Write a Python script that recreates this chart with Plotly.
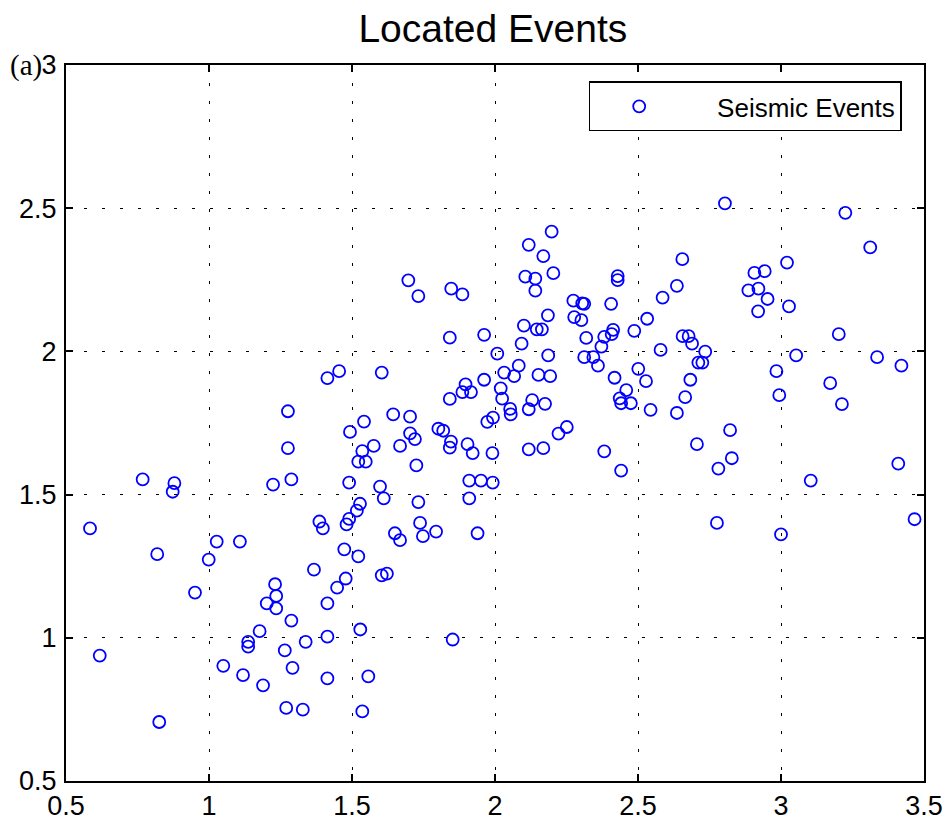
import plotly.graph_objects as go

# Epicentre coordinates of the located seismic events
event_x = [
    2.198, 2.118, 2.169, 1.697, 1.732, 1.847, 1.886, 2.106, 2.141, 2.141,
    2.204, 2.429, 2.429, 2.274, 2.305, 2.312, 2.406, 2.524, 2.804, 3.225,
    3.312, 2.655, 2.636, 2.586, 2.907, 2.943, 2.886, 2.921, 2.953, 3.021,
    3.028, 2.920, 2.532, 2.656, 2.677, 2.689, 2.579, 2.735, 2.711, 2.725,
    3.202, 3.053, 3.336, 3.421, 2.984, 2.501, 2.528, 2.683, 3.172, 2.994,
    2.665, 3.213, 2.544, 2.636, 2.822, 2.706, 2.828, 2.781, 3.410, 3.104,
    2.776, 3.467, 3.000, 2.185, 2.277, 2.302, 2.101, 2.146, 2.164, 2.487,
    2.413, 2.408, 2.382, 2.319, 1.842, 1.962, 2.093, 2.372, 2.008, 2.186,
    2.312, 2.344, 2.360, 2.083, 1.604, 2.032, 2.067, 2.152, 2.193, 2.418,
    1.962, 2.020, 1.897, 1.886, 1.916, 2.459, 2.025, 1.842, 2.436, 2.441,
    2.475, 2.130, 2.118, 2.175, 2.053, 2.055, 1.993, 1.973, 1.644, 1.703,
    1.542, 1.493, 1.703, 1.720, 1.802, 1.819, 1.576, 1.668, 1.536, 1.846,
    1.842, 1.904, 1.922, 1.991, 1.522, 1.548, 1.725, 2.118, 2.169, 2.222,
    2.251, 2.382, 2.441, 1.490, 1.598, 1.611, 1.910, 1.951, 1.992, 1.732,
    1.910, 1.528, 1.517, 1.490, 1.481, 1.738, 1.650, 1.668, 1.748, 1.794,
    1.939, 1.455, 1.414, 1.276, 1.276, 1.288, 1.224, 0.768, 0.879, 0.873,
    0.584, 1.386, 1.398, 1.027, 1.108, 0.819, 0.999, 1.473, 1.522, 1.367,
    1.478, 1.448, 0.951, 1.231, 1.235, 1.202, 1.235, 1.288, 1.414, 1.177,
    1.414, 1.137, 1.137, 1.338, 1.265, 0.618, 1.050, 1.292, 1.119, 1.414,
    1.189, 1.270, 1.328, 0.826, 1.604, 1.622, 1.529, 1.852, 1.557, 1.536,
]
event_y = [
    2.418, 2.372, 2.333, 2.248, 2.193, 2.219, 2.199, 2.261, 2.254, 2.212,
    2.273, 2.263, 2.249, 2.177, 2.168, 2.166, 2.166, 2.796, 2.517, 2.484,
    2.363, 2.322, 2.229, 2.188, 2.274, 2.280, 2.213, 2.219, 2.183, 2.310,
    2.157, 2.140, 2.114, 2.053, 2.053, 2.027, 2.005, 1.999, 1.961, 1.961,
    2.060, 1.986, 1.980, 1.950, 1.931, 1.939, 1.896, 1.901, 1.889, 1.847,
    1.840, 1.816, 1.796, 1.785, 1.725, 1.676, 1.627, 1.591, 1.608, 1.549,
    1.401, 1.414, 1.361, 2.126, 2.120, 2.109, 2.090, 2.077, 2.077, 2.072,
    2.075, 2.060, 2.051, 2.047, 2.048, 2.058, 2.027, 2.017, 1.992, 1.986,
    1.980, 1.980, 1.950, 1.950, 1.926, 1.926, 1.914, 1.918, 1.914, 1.908,
    1.901, 1.871, 1.885, 1.858, 1.858, 1.865, 1.835, 1.834, 1.836, 1.819,
    1.819, 1.830, 1.798, 1.817, 1.799, 1.780, 1.769, 1.754, 1.780, 1.772,
    1.755, 1.719, 1.714, 1.694, 1.730, 1.723, 1.670, 1.670, 1.652, 1.685,
    1.664, 1.676, 1.645, 1.645, 1.615, 1.615, 1.602, 1.658, 1.662, 1.713,
    1.736, 1.651, 1.584, 1.542, 1.528, 1.487, 1.549, 1.549, 1.542, 1.474,
    1.487, 1.468, 1.444, 1.415, 1.396, 1.401, 1.365, 1.341, 1.355, 1.371,
    1.365, 1.931, 1.907, 1.791, 1.662, 1.553, 1.535, 1.553, 1.540, 1.510,
    1.382, 1.406, 1.382, 1.336, 1.336, 1.292, 1.273, 1.309, 1.284, 1.238,
    1.207, 1.175, 1.158, 1.187, 1.146, 1.120, 1.103, 1.060, 1.120, 1.023,
    1.004, 0.986, 0.969, 0.986, 0.956, 0.938, 0.902, 0.895, 0.870, 0.858,
    0.834, 0.755, 0.749, 0.706, 1.218, 1.224, 1.029, 0.994, 0.865, 0.743,
]

tick_vals = [0.5, 1, 1.5, 2, 2.5, 3, 3.5]
tick_text = ["0.5", "1", "1.5", "2", "2.5", "3", "3.5"]

fig = go.Figure()
fig.add_trace(go.Scatter(
    x=event_x, y=event_y, mode="markers",
    name="\u00a0\u00a0\u00a0\u00a0Seismic Events",
    marker=dict(symbol="circle-open", size=12, color="#0000ff",
                line=dict(width=1.8, color="#0000ff")),
))

axis_style = dict(
    showline=True, linecolor="black", linewidth=2, mirror="ticks",
    ticks="inside", ticklen=7, tickwidth=1.5, tickcolor="black",
    showgrid=True, gridcolor="black", gridwidth=1.2, griddash="3px,15px",
    zeroline=False, automargin=False,
    tickfont=dict(family="Liberation Sans", size=27, color="black"),
    tickmode="array",
)

fig.update_xaxes(range=[0.5, 3.5], tickvals=tick_vals, ticktext=tick_text, **axis_style)
fig.update_yaxes(range=[0.5, 3.0], tickvals=tick_vals[:-1], ticktext=tick_text[:-1],
                 ticklabelstandoff=2, **axis_style)

fig.update_layout(
    width=946, height=823,
    margin=dict(l=66, r=22, t=65, b=42, autoexpand=False),
    paper_bgcolor="white", plot_bgcolor="white",
    title=dict(text="Located Events", x=0.521, xanchor="center", y=0.966, yanchor="middle",
               font=dict(family="Liberation Sans", size=39, color="black")),
    showlegend=True,
    legend=dict(x=0.974, xanchor="right", y=0.977, yanchor="top",
                bgcolor="white", bordercolor="black", borderwidth=1.5,
                itemwidth=88,
                font=dict(family="Liberation Sans", size=26, color="black")),
    annotations=[dict(text="(a)", xref="paper", yref="paper", x=-0.068, y=1.0,
                      xanchor="left", yanchor="middle", showarrow=False,
                      font=dict(family="Liberation Serif", size=29, color="black"))],
)

fig.write_html("out.html")
